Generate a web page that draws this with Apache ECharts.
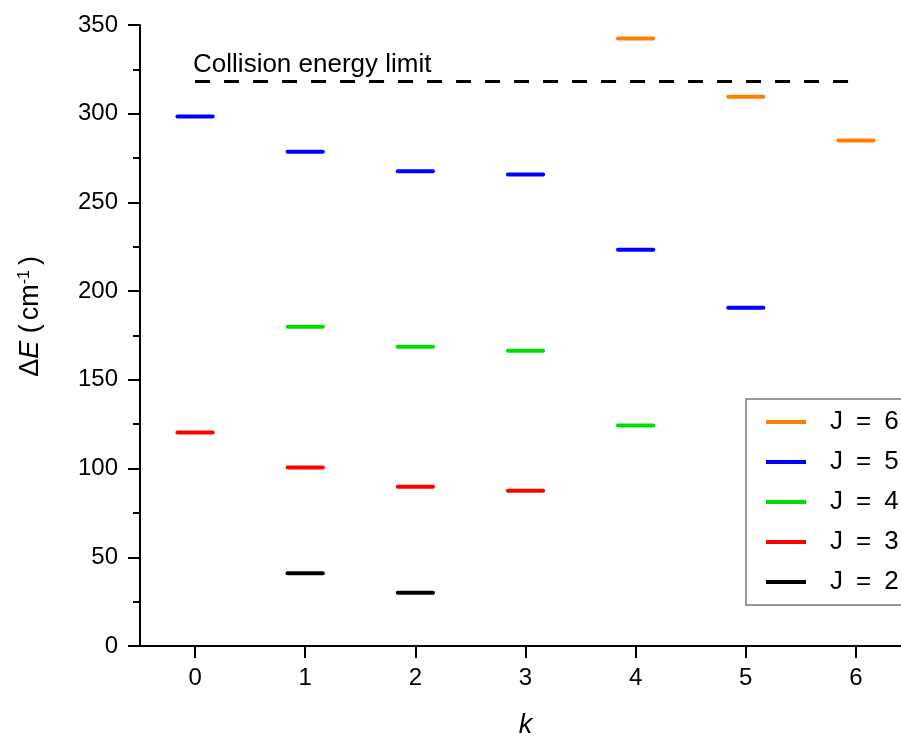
<!DOCTYPE html>
<html>
<head>
<meta charset="utf-8">
<script src="https://cdn.jsdelivr.net/npm/echarts@6/dist/echarts.min.js"></script>
<style>html,body{margin:0;padding:0;background:#fff}#c{width:901px;height:737px}</style>
</head>
<body>
<div id="c"></div>
<script>
// ---- data ----
const seriesNames = ['J = 6', 'J = 5', 'J = 4', 'J = 3', 'J = 2'];
const kJ6 = [4, 5, 6];
const eJ6 = [342.4, 309.6, 284.9];
const kJ5 = [0, 1, 2, 3, 4, 5];
const eJ5 = [298.5, 278.6, 267.6, 265.8, 223.3, 190.6];
const kJ4 = [1, 2, 3, 4];
const eJ4 = [179.9, 168.7, 166.4, 124.3];
const kJ3 = [0, 1, 2, 3];
const eJ3 = [120.3, 100.6, 89.7, 87.5];
const kJ2 = [1, 2];
const eJ2 = [41.0, 30.0];
const limitEnergy = 318.4;
const limitK = [0, 6];
const limitLabel = 'Collision energy limit';
const xTicks = [0, 1, 2, 3, 4, 5, 6];

// ---- styles ----
const colors = ['#FF8000', '#0000FF', '#00DD00', '#FF0000', '#000000'];
const halfW = 0.16;
const FONT = '"Liberation Sans", Arial, sans-serif';
const wide = s => s.replace(/ /g, '\u2002');

const levelSets = [[kJ6, eJ6], [kJ5, eJ5], [kJ4, eJ4], [kJ3, eJ3], [kJ2, eJ2]];

function levelSeries(name, ks, es, color) {
  return {
    name: name,
    type: 'custom',
    coordinateSystem: 'cartesian2d',
    itemStyle: { color: color },
    data: ks.map((k, i) => [k, es[i]]),
    encode: { x: 0, y: 1 },
    renderItem: function (params, api) {
      const k = api.value(0), e = api.value(1);
      const p1 = api.coord([k - halfW, e]);
      const p2 = api.coord([k + halfW, e]);
      return {
        type: 'line',
        shape: { x1: p1[0], y1: p1[1], x2: p2[0], y2: p2[1] },
        style: { stroke: color, lineWidth: 4, lineCap: 'round' }
      };
    }
  };
}

const series = seriesNames.map((n, i) => levelSeries(n, levelSets[i][0], levelSets[i][1], colors[i]));
series.push({
  name: 'limit',
  type: 'line',
  data: [],
  silent: true,
  markLine: {
    silent: true,
    symbol: ['none', 'none'],
    lineStyle: { color: '#000', width: 3, type: [15, 14] },
    label: {
      show: true,
      position: 'insideStartTop',
      formatter: limitLabel,
      color: '#000',
      fontSize: 26,
      fontFamily: FONT,
      distance: [-2, 3]
    },
    data: [[{ coord: [limitK[0], limitEnergy] }, { coord: [limitK[1], limitEnergy] }]]
  }
});

const chart = echarts.init(document.getElementById('c'), null, { renderer: 'canvas' });
chart.setOption({
  animation: false,
  backgroundColor: '#fff',
  grid: { left: 140, right: -10, top: 25, bottom: 91, containLabel: false, outerBoundsMode: 'none' },
  xAxis: {
    type: 'value',
    min: -0.5,
    max: 6.5,
    name: 'k',
    nameLocation: 'middle',
    nameGap: 66,
    nameTextStyle: { fontSize: 27, fontStyle: 'italic', fontFamily: FONT, color: '#000' },
    axisLine: { show: true, onZero: false, lineStyle: { color: '#000', width: 2 } },
    axisTick: { show: true, inside: false, length: 12, lineStyle: { color: '#000', width: 2 }, customValues: xTicks },
    axisLabel: { fontSize: 24, fontFamily: FONT, color: '#000', margin: 20, customValues: xTicks },
    splitLine: { show: false }
  },
  yAxis: {
    type: 'value',
    min: 0,
    max: 350,
    interval: 50,
    name: '{d|Δ}{i|E}{n| (}{c|cm}{s|-1}{p|)}',
    nameLocation: 'middle',
    nameRotate: 90,
    nameGap: 96,
    nameTextStyle: {
      color: '#000',
      fontFamily: FONT,
      padding: [0, 0, 0, 38],
      rich: {
        d: { fontSize: 27, fontFamily: FONT, color: '#000' },
        i: { fontSize: 27, fontStyle: 'italic', fontFamily: FONT, color: '#000' },
        n: { fontSize: 27, fontFamily: FONT, color: '#000' },
        c: { fontSize: 27, fontFamily: FONT, color: '#000', padding: [0, 0, 0, 4] },
        p: { fontSize: 27, fontFamily: FONT, color: '#000', padding: [0, 0, 0, 5] },
        s: { fontSize: 16, fontFamily: FONT, color: '#000', verticalAlign: 'top', padding: [0, 0, 10, 0] }
      }
    },
    axisLine: { show: true, onZero: false, lineStyle: { color: '#000', width: 2 } },
    axisTick: { show: true, inside: false, length: 12, lineStyle: { color: '#000', width: 2 } },
    minorTick: { show: true, splitNumber: 2, length: 7, lineStyle: { color: '#000', width: 2 } },
    axisLabel: { fontSize: 24, fontFamily: FONT, color: '#000', margin: 22 },
    splitLine: { show: false }
  },
  legend: {
    data: seriesNames.map((n, i) => ({ name: n, icon: 'path://M0,0 L40,0 L40,4 L0,4 Z' })),
    formatter: wide,
    orient: 'vertical',
    left: 746,
    top: 399,
    itemWidth: 40,
    itemHeight: 4,
    itemGap: 14,
    padding: [10, 40, 10, 20],
    borderColor: '#777',
    borderWidth: 1.5,
    textStyle: { fontSize: 26, fontFamily: FONT, color: '#000', lineHeight: 26, padding: [0, 0, 0, 19] },
    selectedMode: false
  },
  series: series
});
</script>
</body>
</html>
